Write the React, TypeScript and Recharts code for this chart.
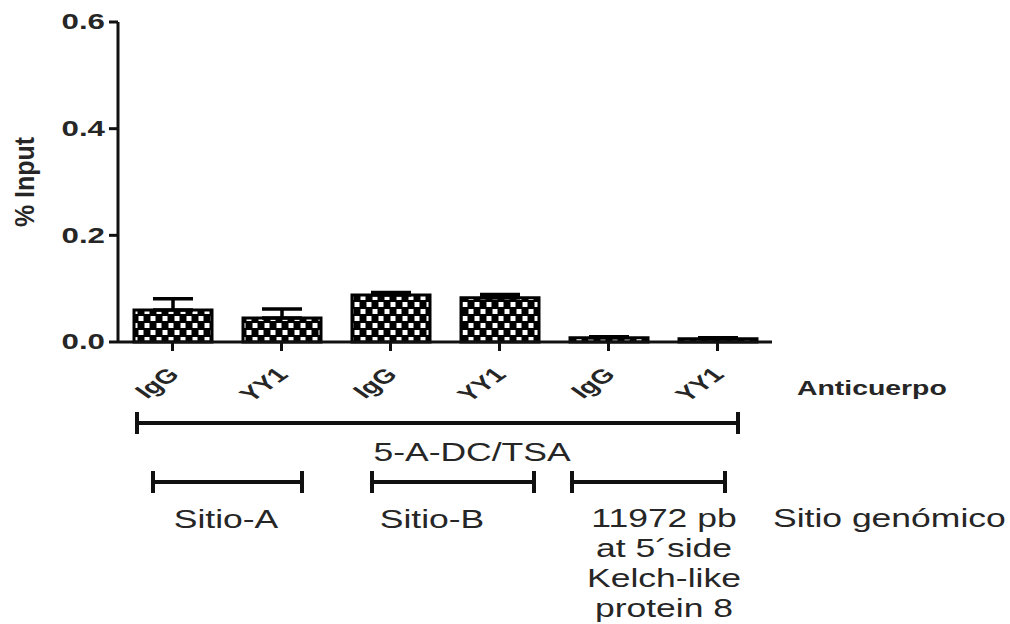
import React from "react";
import { BarChart, Bar, XAxis, YAxis, ErrorBar } from "recharts";

const antibodies = ["IgG", "YY1", "IgG", "YY1", "IgG", "YY1"];
const percentInput = [0.06, 0.045, 0.088, 0.083, 0.008, 0.006];
const errUp = [0.021, 0.017, 0.005, 0.006, 0.002, 0.002];
const yTicks = [0, 0.2, 0.4, 0.6];
const siteLabels = ["Sitio-A", "Sitio-B"];
const geneLines = ["11972 pb", "at 5´side", "Kelch-like", "protein 8"];

const data = antibodies.map((ab, i) => ({
  key: `c${i}`,
  ab,
  value: percentInput[i],
  err: [0, errUp[i]],
}));

const FONT = "'Liberation Sans', Arial, sans-serif";
const SX = 1.42; // source image is stretched sideways
const INK = "#111";
const TXT = "#262626";

function Wide({ x, y, size, bold, anchor = "start", children, rotate = 0 }: any) {
  return (
    <text
      transform={`translate(${x},${y}) scale(${SX},1) rotate(${rotate})`}
      fontFamily={FONT}
      fontSize={size}
      fontWeight={bold ? "bold" : "normal"}
      textAnchor={anchor}
      dominantBaseline="central"
      fill={TXT}
    >
      {children}
    </text>
  );
}

function XTick(props: any) {
  const { x, y, payload } = props;
  const i = Number(String(payload.value).slice(1));
  return (
    <text
      transform={`translate(${x + 8},${y + 23}) scale(${SX},1) rotate(-45)`}
      fontFamily={FONT}
      fontSize={20}
      fontWeight="bold"
      textAnchor="end"
      fill={TXT}
    >
      {antibodies[i]}
    </text>
  );
}

function YTick(props: any) {
  const { x, y, payload } = props;
  return (
    <Wide x={x + 1} y={y} size={22} bold anchor="end">
      {Number(payload.value).toFixed(1)}
    </Wide>
  );
}

function Bracket({ x1, x2, y, cap }: { x1: number; x2: number; y: number; cap: number }) {
  return (
    <g stroke={INK} strokeWidth={4}>
      <line x1={x1} y1={y} x2={x2} y2={y} />
      <line x1={x1} y1={y - cap} x2={x1} y2={y + cap} />
      <line x1={x2} y1={y - cap} x2={x2} y2={y + cap} />
    </g>
  );
}

export default function App() {
  return (
    <div style={{ position: "absolute", left: 0, top: 0, width: 1010, height: 624, background: "#fff" }}>
      <BarChart
        width={1010}
        height={624}
        data={data}
        margin={{ top: 22, right: 238, bottom: 252, left: 0 }}
      >
        <defs>
          <pattern id="checker" width="12" height="14" patternUnits="userSpaceOnUse">
            <rect width="12" height="14" fill="#000" />
            <rect x="0.5" y="1" width="5" height="5" fill="#fff" />
            <rect x="6.5" y="8" width="5" height="5" fill="#fff" />
          </pattern>
        </defs>
        <YAxis
          width={118}
          domain={[0, 0.6]}
          ticks={yTicks}
          tickSize={9}
          tickMargin={5}
          axisLine={{ stroke: INK, strokeWidth: 3 }}
          tickLine={{ stroke: INK, strokeWidth: 3 }}
          tick={(p: any) => <YTick {...p} />}
        />
        <XAxis
          dataKey="key"
          height={30}
          tickSize={9}
          axisLine={{ stroke: INK, strokeWidth: 3 }}
          tickLine={{ stroke: INK, strokeWidth: 3 }}
          tick={(p: any) => <XTick {...p} />}
          interval={0}
        />
        <Bar
          dataKey="value"
          barSize={78}
          fill="url(#checker)"
          stroke="#000"
          strokeWidth={3}
          isAnimationActive={false}
        >
          <ErrorBar dataKey="err" width={20} stroke="#000" strokeWidth={3.5} direction="y" />
        </Bar>
      </BarChart>

      <svg
        width={1010}
        height={624}
        style={{ position: "absolute", left: 0, top: 0, pointerEvents: "none" }}
      >
        <text
          transform="translate(25,182) rotate(-90) scale(1,1.1)"
          fontFamily={FONT}
          fontSize={25}
          fontWeight="bold"
          textAnchor="middle"
          dominantBaseline="central"
          fill={TXT}
        >
          % Input
        </text>

        <Wide x={797} y={388} size={20} bold>
          Anticuerpo
        </Wide>

        <Bracket x1={137} x2={738} y={423} cap={11} />
        <Wide x={472} y={452} size={25} anchor="middle">
          5-A-DC/TSA
        </Wide>

        <Bracket x1={153} x2={302} y={482} cap={11} />
        <Bracket x1={372} x2={534} y={482} cap={11} />
        <Bracket x1={572} x2={725} y={482} cap={11} />

        <Wide x={226} y={519} size={25} anchor="middle">
          {siteLabels[0]}
        </Wide>
        <Wide x={432} y={519} size={25} anchor="middle">
          {siteLabels[1]}
        </Wide>
        {geneLines.map((t, i) => (
          <Wide key={t} x={664} y={518 + i * 30} size={25} anchor="middle">
            {t}
          </Wide>
        ))}
        <Wide x={773} y={518} size={25}>
          Sitio genómico
        </Wide>
      </svg>
    </div>
  );
}
